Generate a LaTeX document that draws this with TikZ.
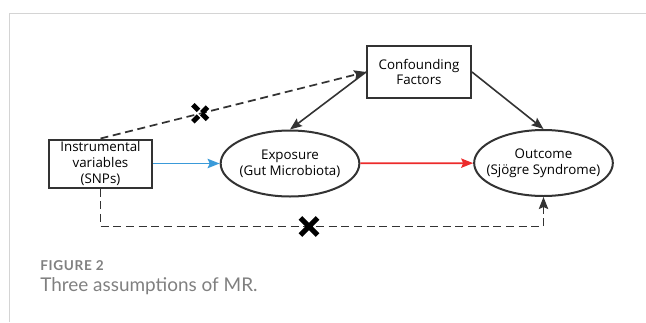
\documentclass[tikz,border=0pt]{standalone}
\usepackage{fontspec}
\setmainfont{Open Sans}
\newfontfamily\capfont{Lato}
\usetikzlibrary{arrows.meta,shapes.geometric,shapes.misc}
\definecolor{linegray}{HTML}{333333}
\definecolor{framegray}{HTML}{D4D4D4}
\definecolor{capgray}{HTML}{808080}
\definecolor{snpblue}{HTML}{3A9AD9}
\definecolor{causered}{HTML}{EC2B2B}
\tikzset{
  box/.style={draw=linegray, line width=1.5pt, minimum width=77pt, minimum height=36pt,
    inner sep=0pt, align=center, font=\fontsize{10}{11.8}\selectfont},
  oval/.style={ellipse, draw=linegray, line width=1.5pt, minimum width=104pt, minimum height=49.5pt,
    inner xsep=-8pt, inner ysep=0pt, align=center, font=\fontsize{10}{11.8}\selectfont},
  link/.style={->, linegray, line width=1.2pt},
  nolink/.style={->, linegray, line width=1.3pt, dash pattern=on 6pt off 3.5pt},
  crossmark/.style={cross out, draw=black, line width=3.8pt, minimum size=9pt, inner sep=0pt},
}
\begin{document}
\begin{tikzpicture}[x=0.75pt,y=-0.75pt,>={Stealth[length=9pt,width=7pt,inset=1.5pt]}]
\useasboundingbox (0,0) rectangle (646,322);
\draw[framegray, line width=0.9pt] (9.5,322) -- (9.5,13.5) -- (646,13.5);
\node[box] (iv) at (100.5,163.5) {Instrumental\\variables\\(SNPs)};
\node[box, minimum width=78pt, minimum height=39pt] (conf) at (419,72) {Confounding\\Factors};
\node[oval] (exp) at (290,163.5) {Exposure\\(Gut Microbiota)};
\node[oval] (out) at (543.5,163) {Outcome\\(Sjögre Syndrome)};
\coordinate (low) at (309,226.5);
\draw[->, snpblue, line width=1.3pt] (iv) -- (exp);
\draw[->, causered, line width=1.3pt] (exp) -- (out);
\draw[link] (conf.west) -- (exp.north);
\draw[link] (conf.east) -- (out.north);
\draw[nolink] (iv.north) -- node[crossmark, pos=0.38] (x1) {} (conf.west);
\draw[nolink] (iv.south) |- (low) -| (out.south);
\node[crossmark] (x2) at (low) {};
% caption
\node[anchor=base west, inner sep=0pt, text=capgray, font=\capfont\bfseries\addfontfeatures{LetterSpace=5}\fontsize{10.2}{11}\selectfont] (fig) at (40,270) {FIGURE 2};
\node[anchor=base west, inner sep=0pt, text=capgray, font=\capfont\fontsize{14.2}{16}\selectfont] (cap) at (40,291) {Three assumptions of MR.};
\end{tikzpicture}
\end{document}
